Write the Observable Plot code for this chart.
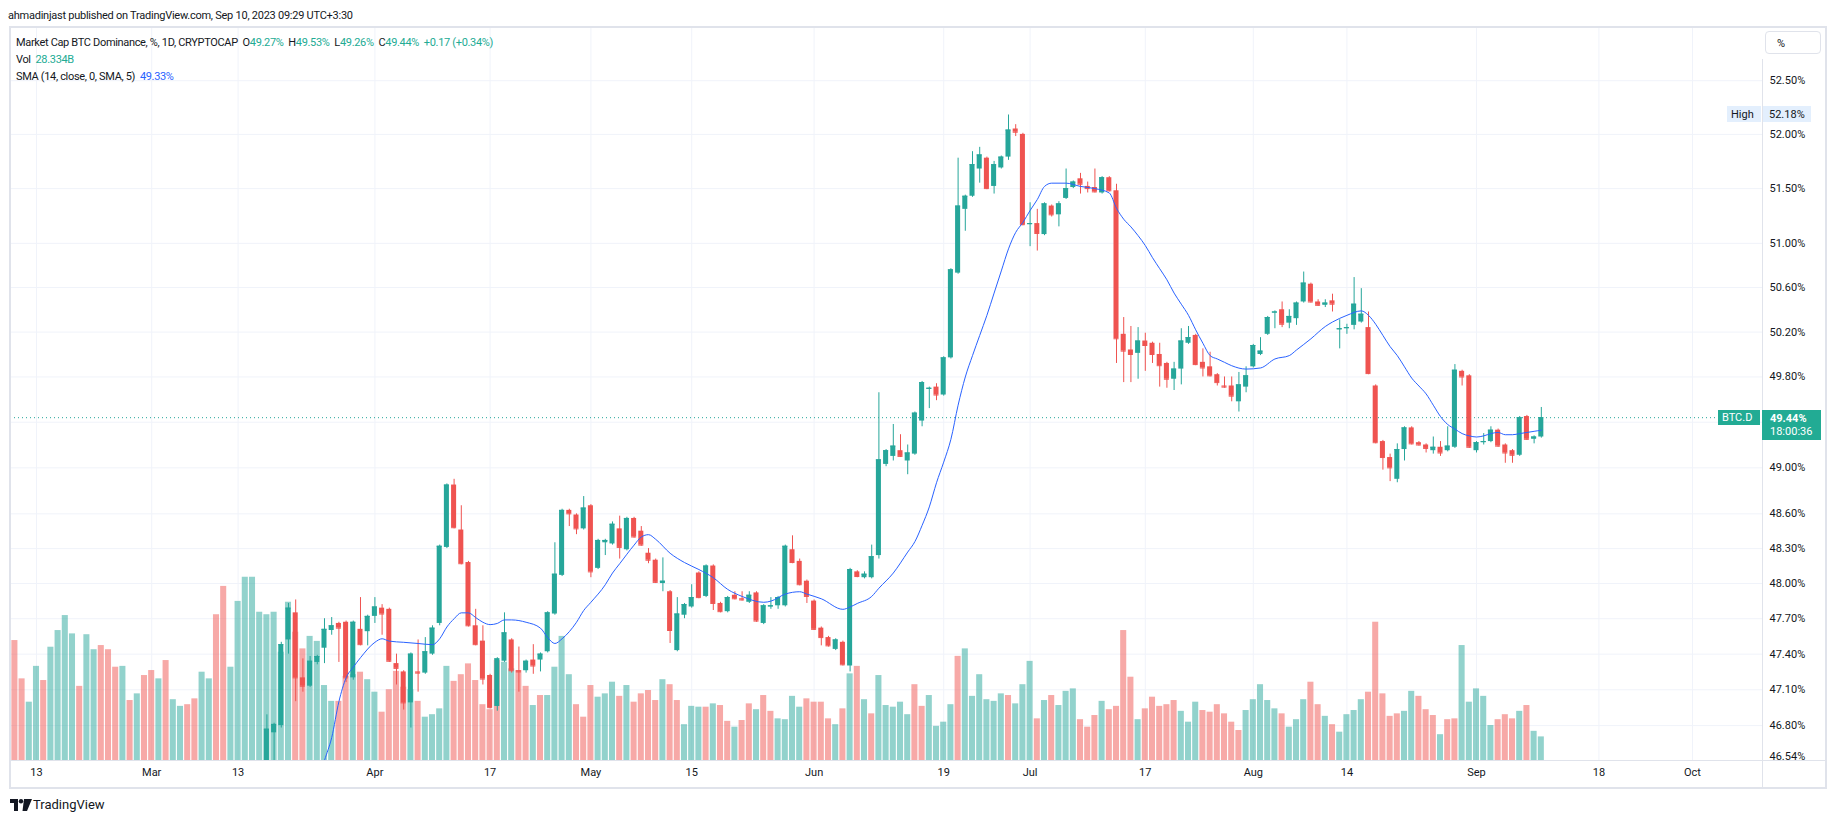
<!DOCTYPE html>
<html><head><meta charset="utf-8">
<script src="https://cdn.jsdelivr.net/npm/d3@7"></script>
<script src="https://cdn.jsdelivr.net/npm/@observablehq/plot@0.6"></script>
<style>
body{margin:0;background:#fff;font-family:Roboto,"Noto Sans",sans-serif;}
#wrap{position:relative;width:1835px;height:823px;overflow:hidden;background:#fff;}
.layer{position:absolute;left:0;top:0;}
.t{position:absolute;white-space:nowrap;font-size:11px;color:#131722;line-height:1;}
.g{color:#22ab94;}
.b{color:#2962ff;}
.box{position:absolute;box-sizing:border-box;font-size:11px;line-height:1;white-space:nowrap;}
</style></head><body><div id="wrap"></div>
<script>
// ---------------- data ----------------
const volStart = "2023-02-09";
const volume = [
 137,144,98,70,113,96,136,156,174,152,89,151,133,138,133,112,113,72,80,102,
 108,98,120,73,65,67,74,106,98,175,209,112,191,220,220,178,175,178,130,190,154,134,149,143,90,71,71,101,103,106,97,
 82,58,85,107,88,85,71,52,55,62,113,95,103,116,96,67,61,120,118,110,108,89,66,78,78,112,149,103,67,52,
 90,76,80,94,77,90,70,80,84,72,97,91,72,43,65,64,64,68,66,47,40,48,68,61,78,59,50,49,77,64,74,
 70,70,50,43,62,104,113,73,56,102,66,64,70,55,91,65,78,41,46,67,125,134,77,103,73,71,80,78,68,91,
 119,50,72,78,66,83,86,49,40,54,71,61,65,156,100,49,62,76,65,67,72,59,46,70,60,58,67,56,46,36,60,
 73,91,72,62,56,40,49,73,94,67,53,43,34,55,60,73,82,166,80,53,56,59,83,77,61,54,31,49,50,138,70,
 86,77,42,49,55,50,59,66,35,28.334
];
const volDir = (
 "udduuduuuuduudddudud" +
 "duduudduudduuuuuuuuudduuuudduduu".slice(0,31) +
 "uddddudu uuuddddddduudduduuuudd".replace(/ /g,"").slice(0,30) +
 "duuududdddudduuududduddudduuuuddd".slice(0,31) +
 "dddudududuuuuudduuuuduuuuuuduudd".slice(0,30) +
 "ududuuudddudddduddddduuudddddduu".slice(0,31) +
 "uuuuduuudduduuuuddddduudddudduudd".slice(0,31) +
 "uuudddudu u".replace(/ /g,"")
).split("");

const candleStart = "2023-03-17";
const open = [
 46.40,46.74,46.80,47.52,47.75,47.20,47.13,47.33,47.45,47.60,47.66,47.67,47.20,47.61,47.59,
 47.72,47.79,47.78,47.32,47.25,46.99,47.25,47.24,47.40,47.66,48.31,48.85,48.46,48.18,47.64,47.51,47.22,46.96,47.34,47.52,47.26,47.26,47.35,47.35,47.42,47.74,48.07,48.63,48.59,48.47,
 48.67,48.13,48.35,48.34,48.47,48.29,48.56,48.45,48.26,48.20,48.00,47.93,47.43,47.73,47.80,48.09,47.89,48.15,47.83,47.76,47.90,47.87,47.84,47.92,47.66,47.80,47.81,47.81,48.29,48.19,48.02,
 47.85,47.62,47.54,47.44,47.50,47.30,48.10,48.05,48.05,48.24,49.03,49.10,49.15,49.06,49.12,49.41,49.69,49.71,49.64,49.97,50.73,51.31,51.43,51.68,51.78,51.52,51.69,51.79,52.05,52.00,
 51.17,51.18,51.08,51.34,51.26,51.41,51.51,51.59,51.52,51.51,51.46,51.60,51.48,50.18,50.04,50.01,50.12,50.10,50.00,49.92,49.78,49.87,50.10,50.17,49.93,49.89,49.82,49.72,49.72,49.58,49.71,
 49.89,50.00,50.18,50.37,50.40,50.28,50.32,50.47,50.63,50.47,50.44,50.48,50.22,50.23,50.26,50.29,50.24,49.72,49.23,49.09,48.90,49.16,49.35,49.22,49.20,49.15,49.18,49.15,49.18,49.85,49.81,
 49.15,49.22,49.23,49.33,49.20,49.15,49.11,49.45,49.25,49.27
];
const high = [
 46.89,46.82,47.50,47.83,47.86,47.36,47.38,47.39,47.70,47.71,47.67,47.68,47.68,47.88,47.73,
 47.88,47.82,47.79,47.40,47.26,47.41,47.52,47.54,47.64,48.33,48.86,48.90,48.67,48.19,47.78,47.64,47.23,47.37,47.75,47.53,47.46,47.35,47.48,47.41,47.76,48.35,48.64,48.64,48.60,48.75,
 48.68,48.38,48.38,48.53,48.58,48.57,48.57,48.49,48.30,48.21,48.22,47.94,47.88,47.83,47.99,48.10,48.16,48.16,47.84,47.89,47.93,47.93,47.93,47.93,47.82,47.88,47.89,48.33,48.41,48.21,48.03,
 47.86,47.63,47.55,47.53,47.51,48.13,48.11,48.10,48.33,49.66,49.16,49.38,49.29,49.20,49.49,49.76,49.71,49.74,49.98,50.77,51.78,51.44,51.84,51.88,51.79,51.75,51.80,52.18,52.09,52.01,
 51.37,51.31,51.37,51.35,51.38,51.68,51.57,51.64,51.56,51.68,51.61,51.61,51.54,50.33,50.25,50.24,50.19,50.11,50.10,49.93,49.93,50.23,50.25,50.18,50.05,50.02,49.83,49.80,49.80,49.84,49.89,
 50.09,50.15,50.34,50.39,50.47,50.40,50.47,50.74,50.64,50.49,50.49,50.54,50.31,50.27,50.69,50.59,50.38,49.73,49.24,49.12,49.21,49.36,49.36,49.23,49.21,49.27,49.23,49.36,49.91,49.86,49.82,
 49.23,49.30,49.36,49.34,49.21,49.16,49.45,49.46,49.28,49.53
];
const low = [
 46.35,46.45,46.78,47.40,47.00,47.08,47.12,47.31,47.32,47.56,47.33,47.16,47.18,47.47,47.47,
 47.66,47.56,47.33,47.14,46.93,46.78,47.08,47.23,47.39,47.64,48.30,48.47,48.16,47.63,47.47,47.14,46.94,46.92,47.33,47.24,47.08,47.24,47.23,47.25,47.41,47.73,48.06,48.49,48.42,48.46,
 48.05,48.12,48.24,48.33,48.21,48.28,48.39,48.32,48.17,48.00,47.93,47.49,47.42,47.70,47.79,47.87,47.88,47.77,47.75,47.75,47.86,47.85,47.83,47.67,47.65,47.78,47.78,47.80,48.17,47.98,47.83,
 47.60,47.47,47.46,47.43,47.30,47.25,48.05,48.04,48.04,48.21,49.01,49.06,49.09,48.94,49.11,49.36,49.52,49.59,49.63,49.96,50.72,51.11,51.42,51.55,51.49,51.45,51.68,51.76,51.98,51.16,
 50.97,50.93,51.07,51.24,51.15,51.40,51.50,51.45,51.46,51.46,51.45,51.47,49.92,49.75,49.75,49.78,49.85,49.92,49.71,49.70,49.68,49.73,50.09,49.90,49.80,49.80,49.72,49.70,49.58,49.49,49.66,
 49.88,49.99,50.17,50.23,50.24,50.23,50.26,50.46,50.46,50.43,50.42,50.38,50.05,50.18,50.22,50.28,49.82,49.21,48.98,48.88,48.87,49.06,49.20,49.19,49.13,49.12,49.10,49.14,49.17,49.72,49.17,
 49.13,49.20,49.22,49.18,49.04,49.04,49.10,49.24,49.21,49.26
];
const close = [
 46.77,46.81,47.48,47.79,47.20,47.13,47.34,47.38,47.61,47.64,47.62,47.20,47.67,47.48,47.72,
 47.80,47.74,47.34,47.28,46.99,47.40,47.24,47.42,47.62,48.32,48.85,48.48,48.17,47.64,47.48,47.19,46.95,47.36,47.58,47.26,47.25,47.34,47.30,47.40,47.75,48.08,48.63,48.60,48.47,48.65,
 48.10,48.37,48.37,48.51,48.31,48.56,48.40,48.33,48.20,48.01,48.02,47.60,47.74,47.82,47.88,47.88,48.15,47.83,47.76,47.88,47.87,47.86,47.90,47.68,47.81,47.81,47.88,48.32,48.18,47.99,47.89,
 47.61,47.54,47.47,47.52,47.31,48.12,48.06,48.08,48.23,49.07,49.15,49.19,49.10,49.13,49.48,49.75,49.70,49.64,49.97,50.76,51.34,51.43,51.72,51.81,51.50,51.72,51.79,52.04,52.02,51.17,
 51.18,51.09,51.36,51.26,51.36,51.50,51.56,51.54,51.50,51.47,51.60,51.48,50.14,50.03,50.00,50.12,50.08,50.00,49.90,49.78,49.87,50.12,50.15,49.91,49.88,49.81,49.75,49.71,49.63,49.73,49.81,
 50.08,50.03,50.33,50.38,50.27,50.34,50.46,50.64,50.47,50.44,50.46,50.45,50.23,50.24,50.45,50.36,49.83,49.22,49.09,49.00,49.16,49.35,49.21,49.20,49.17,49.18,49.13,49.19,49.86,49.80,49.18,
 49.22,49.23,49.33,49.19,49.13,49.11,49.44,49.25,49.27,49.44
];

// SMA (14)
const smaDates = ["2023-03-24","2023-03-25","2023-03-26","2023-03-27","2023-03-28","2023-03-29","2023-03-30","2023-04-01","2023-04-02","2023-04-03","2023-04-05","2023-04-07","2023-04-09","2023-04-10","2023-04-11","2023-04-12","2023-04-13","2023-04-14","2023-04-15","2023-04-16","2023-04-17","2023-04-18","2023-04-19","2023-04-20","2023-04-22","2023-04-24","2023-04-25","2023-04-26","2023-04-27","2023-04-29","2023-04-30","2023-05-01","2023-05-03","2023-05-04","2023-05-05","2023-05-07","2023-05-08","2023-05-09","2023-05-10","2023-05-12","2023-05-14","2023-05-16","2023-05-18","2023-05-20","2023-05-22","2023-05-25","2023-05-26","2023-05-28","2023-05-30","2023-05-31","2023-06-02","2023-06-05","2023-06-06","2023-06-07","2023-06-09","2023-06-10","2023-06-12","2023-06-14","2023-06-15","2023-06-16","2023-06-17","2023-06-18","2023-06-19","2023-06-20","2023-06-21","2023-06-22","2023-06-23","2023-06-24","2023-06-25","2023-06-26","2023-06-27","2023-06-28","2023-06-29","2023-06-30","2023-07-01","2023-07-02","2023-07-03","2023-07-04","2023-07-06","2023-07-08","2023-07-10","2023-07-12","2023-07-13","2023-07-14","2023-07-15","2023-07-16","2023-07-17","2023-07-18","2023-07-19","2023-07-20","2023-07-21","2023-07-22","2023-07-23","2023-07-24","2023-07-25","2023-07-26","2023-07-27","2023-07-28","2023-07-29","2023-07-31","2023-08-02","2023-08-04","2023-08-06","2023-08-07","2023-08-09","2023-08-11","2023-08-12","2023-08-14","2023-08-16","2023-08-17","2023-08-18","2023-08-19","2023-08-20","2023-08-21","2023-08-22","2023-08-23","2023-08-24","2023-08-25","2023-08-26","2023-08-27","2023-08-28","2023-08-29","2023-08-30","2023-08-31","2023-09-01","2023-09-02","2023-09-03","2023-09-04","2023-09-05","2023-09-06","2023-09-07","2023-09-08","2023-09-09","2023-09-10"];
const smaValues = [46.30,46.51,46.70,47.00,47.20,47.29,47.37,47.50,47.53,47.51,47.50,47.49,47.48,47.53,47.63,47.70,47.75,47.75,47.71,47.67,47.65,47.66,47.69,47.69,47.67,47.62,47.54,47.49,47.53,47.67,47.77,47.84,47.99,48.09,48.17,48.33,48.40,48.42,48.38,48.26,48.18,48.12,48.05,47.95,47.89,47.84,47.85,47.91,47.93,47.91,47.87,47.78,47.80,47.83,47.89,47.96,48.09,48.27,48.36,48.50,48.66,48.87,49.05,49.25,49.55,49.80,49.99,50.17,50.35,50.55,50.75,50.95,51.10,51.19,51.30,51.40,51.52,51.55,51.55,51.52,51.50,51.46,51.32,51.22,51.15,51.07,50.98,50.87,50.77,50.67,50.55,50.45,50.35,50.22,50.10,49.99,49.96,49.93,49.90,49.87,49.88,49.96,49.99,50.04,50.14,50.25,50.29,50.35,50.39,50.35,50.27,50.17,50.07,49.99,49.89,49.79,49.72,49.65,49.55,49.45,49.38,49.34,49.30,49.28,49.27,49.28,49.30,49.31,49.29,49.29,49.30,49.31,49.32,49.33];

const priceTicks = [52.5,52.0,51.5,51.0,50.6,50.2,49.8,49.0,48.6,48.3,48.0,47.7,47.4,47.1,46.8,46.54];
const priceGrid = [52.5,52.0,51.5,51.0,50.6,50.2,49.8,49.4,49.0,48.6,48.3,48.0,47.7,47.4,47.1,46.8];
const timeTickDates = ["2023-02-13","2023-03-01","2023-03-13","2023-04-01","2023-04-17","2023-05-01","2023-05-15","2023-06-01","2023-06-19","2023-07-01","2023-07-17","2023-08-01","2023-08-14","2023-09-01","2023-09-18","2023-10-01"];
const timeTickLabels = ["13","Mar","13","Apr","17","May","15","Jun","19","Jul","17","Aug","14","Sep","18","Oct"];
const lastPrice = 49.44, highPrice = 52.18;

// ---------------- build ----------------
const DAY = 864e5;
const up = "#26a69a", down = "#ef5350";
const vol = volume.map((v,i)=>({date:new Date(+new Date(volStart)+i*DAY), v, up: volDir[i]==="u"}));
const candles = open.map((o,i)=>({date:new Date(+new Date(candleStart)+i*DAY), open:o, high:high[i], low:low[i], close:close[i], up: close[i]>=o}));
const sma = smaDates.map((d,i)=>({date:new Date(d), v:smaValues[i]}));
const tickDates = timeTickDates.map(d=>new Date(d));
const tickLabel = new Map(tickDates.map((d,i)=>[+d, timeTickLabels[i]]));

const W=1835, H=790;
const oct1 = +new Date("2023-10-01");
const xDomain = [new Date(oct1 - 233.61*DAY), new Date(oct1 + 9.72*DAY)];
const common = {width:W, height:H, marginTop:27, marginBottom:30, marginLeft:10, marginRight:73,
  style:{background:"transparent", fontFamily:"Roboto, 'Noto Sans', sans-serif", fontSize:"11px", color:"#131722", overflow:"visible"}};
const priceY = {type:"log", domain:[46.51, 53.0]};

const wrap = document.getElementById("wrap");
function add(el){ el.classList.add("layer"); wrap.appendChild(el); return el; }

// layer 1: grid & axes
const base = Plot.plot({...common, x:{type:"utc", domain:xDomain}, y:{...priceY},
  marks:[
    Plot.ruleY(priceGrid, {stroke:"#f0f3fa", strokeWidth:1}),
    Plot.ruleX(tickDates, {stroke:"#f0f3fa", strokeWidth:1}),
    Plot.axisY({anchor:"right", ticks:priceTicks, tickSize:0, tickPadding:7, tickFormat:d=>d.toFixed(2)+"%", fill:"#131722"}),
    Plot.axisX({anchor:"bottom", ticks:tickDates, tickSize:0, tickPadding:8, tickFormat:d=>tickLabel.get(+d), fill:"#131722"})
  ]});
add(base);

// layer 2: volume
const bw1 = d=>new Date(+d.date-0.42*DAY), bw2 = d=>new Date(+d.date+0.42*DAY);
const volPlot = Plot.plot({...common, x:{type:"utc", domain:xDomain, axis:null}, y:{domain:[0,880], axis:null},
  marks:[
    Plot.rectY(vol.filter(d=>d.up), {x1:bw1, x2:bw2, y:"v", fill:up, fillOpacity:0.5, clip:true}),
    Plot.rectY(vol.filter(d=>!d.up), {x1:bw1, x2:bw2, y:"v", fill:down, fillOpacity:0.5, clip:true})
  ]});
add(volPlot);

// layer 3: candles
const cu = candles.filter(d=>d.up), cd = candles.filter(d=>!d.up);
const bx1 = d=>new Date(+d.date-0.35*DAY), bx2 = d=>new Date(+d.date+0.35*DAY);
const pricePlot = Plot.plot({...common, x:{type:"utc", domain:xDomain, axis:null}, y:{...priceY, axis:null},
  marks:[
    Plot.ruleY([lastPrice], {stroke:up, strokeDasharray:"1,3", strokeWidth:1}),
    Plot.ruleX(cu, {x:"date", y1:"low", y2:"high", stroke:up, clip:true}),
    Plot.ruleX(cd, {x:"date", y1:"low", y2:"high", stroke:down, clip:true}),
    Plot.rect(cu, {x1:bx1, x2:bx2, y1:"open", y2:"close", fill:up, clip:true}),
    Plot.rect(cd, {x1:bx1, x2:bx2, y1:"open", y2:"close", fill:down, clip:true}),
    Plot.ruleY(cu, {x1:bx1, x2:bx2, y:"close", stroke:up, clip:true}),
    Plot.ruleY(cd, {x1:bx1, x2:bx2, y:"close", stroke:down, clip:true}),
    Plot.line(sma, {x:"date", y:"v", stroke:"#2962ff", strokeWidth:1, curve:"monotone-x", clip:true})
  ]});
add(pricePlot);

const ys = pricePlot.scale("y");

// ---------------- html overlays ----------------
function div(cls, css, html){ const d=document.createElement("div"); d.className=cls; d.style.cssText=css; d.innerHTML=html||""; wrap.appendChild(d); return d; }
// frame
div("box","left:9px;top:26px;width:1818px;height:763px;border:2px solid #e0e3eb;");
div("box","left:10px;top:760px;width:1815px;height:1px;background:#e0e3eb;");
div("box","left:1762px;top:59px;width:1px;height:728px;background:#e0e3eb;");
div("box","left:1763px;top:761px;width:61px;height:25px;background:#fff;");
// top text
div("t","left:8px;top:10px;font-size:11px;letter-spacing:-0.25px;","ahmadinjast published on TradingView.com, Sep 10, 2023 09:29 UTC+3:30");
div("t","left:16px;top:37px;letter-spacing:-0.33px;",
 "Market Cap BTC Dominance, %, 1D, CRYPTOCAP&nbsp;&nbsp;O<span class='g'>49.27%</span>&nbsp;&nbsp;H<span class='g'>49.53%</span>&nbsp;&nbsp;L<span class='g'>49.26%</span>&nbsp;&nbsp;C<span class='g'>49.44%</span>&nbsp;&nbsp;<span class='g'>+0.17 (+0.34%)</span>");
div("t","left:16px;top:54px;letter-spacing:-0.33px;","Vol&nbsp;&nbsp;<span class='g'>28.334B</span>");
div("t","left:16px;top:71px;letter-spacing:-0.33px;","SMA (14, close, 0, SMA, 5)&nbsp;&nbsp;<span class='b'>49.33%</span>");
// % button
div("box","left:1765px;top:31px;width:56px;height:23px;border:1px solid #e0e3eb;border-radius:4px;background:#fff;padding:6px 0 0 11px;color:#131722;","%");
// High label
const hy = ys.apply(highPrice);
div("box",`left:1727px;top:${hy-8}px;width:34px;height:16px;background:#e3effd;color:#131722;padding:3px 0 0 4px;`,"High");
div("box",`left:1763px;top:${hy-8}px;width:48px;height:16px;background:#e3effd;color:#131722;padding:3px 0 0 6px;`, highPrice.toFixed(2)+"%");
// last price label
const ly = ys.apply(lastPrice);
div("box",`left:1718px;top:${ly-7}px;width:42px;height:15px;background:#22ab94;color:#fff;padding:2px 0 0 4px;`,"BTC.D");
div("box",`left:1762px;top:${ly-7}px;width:59px;height:30px;background:#22ab94;color:#fff;padding:2px 0 0 8px;line-height:13px;`,
 "<b>"+lastPrice.toFixed(2)+"%</b><br>18:00:36");
// TradingView logo
div("box","left:10px;top:799px;width:22px;height:12px;",
 `<svg width="22" height="12" viewBox="0 0 22 12"><path d="M0 0h8v12h-4v-8h-4z" fill="#131722"/><circle cx="11" cy="2.2" r="2.2" fill="#131722"/><path d="M14 0h8l-5 12h-4.5z" fill="#131722"/></svg>`);
div("t","left:33px;top:798px;font-size:13px;","TradingView");
</script></body></html>
